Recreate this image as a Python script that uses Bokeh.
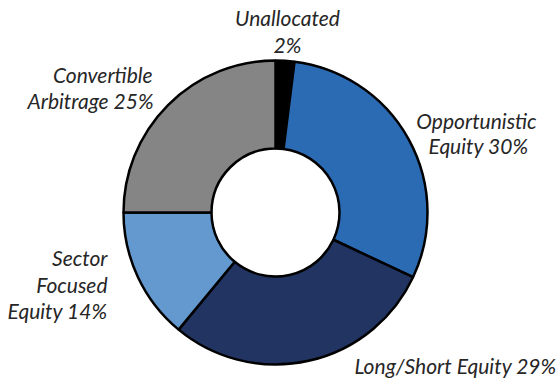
import numpy as np
from bokeh.plotting import figure
from bokeh.models import ColumnDataSource, Range1d, Label
from bokeh.embed import file_html
from bokeh.resources import INLINE

categories = ["Unallocated", "Opportunistic Equity", "Long/Short Equity",
              "Sector Focused Equity", "Convertible Arbitrage"]
shares = [2, 30, 29, 14, 25]
colors = ["#000000", "#2b6bb4", "#213462", "#6399cf", "#858585"]

W, H = 558, 381
cx, cy = 275, H - 212
r_out, r_in = 152, 64

vals = np.array(shares, dtype=float)
frac = vals / vals.sum()
cum = np.concatenate([[0], np.cumsum(frac)])
start = np.pi / 2 - 2 * np.pi * cum[:-1]
end = np.pi / 2 - 2 * np.pi * cum[1:]

src = ColumnDataSource(dict(cat=categories, val=shares, color=colors,
                            start=start, end=end))

p = figure(width=W, height=H, x_range=Range1d(0, W), y_range=Range1d(0, H),
           output_backend="svg", toolbar_location=None, min_border=0)
p.axis.visible = False
p.grid.visible = False
p.outline_line_color = None
p.background_fill_color = "white"

p.annular_wedge(x=cx, y=cy, inner_radius=r_in, outer_radius=r_out,
                start_angle="start", end_angle="end", direction="clock",
                fill_color="color", line_color="black", line_width=2.5,
                source=src)

font = "Lato"
fs = "21px"
tc = "#262626"
dy = 8

def lab(text, x, y_img, align):
    p.add_layout(Label(x=x, y=H - (y_img - dy), text=text, text_font=font,
                       text_font_size=fs, text_font_style="italic",
                       text_color=tc, text_align=align,
                       text_baseline="alphabetic"))

lab("Unallocated", 287, 25, "center")
lab(f"{shares[0]}%", 287, 52, "center")
lab("Opportunistic", 476, 128, "center")
lab(f"Equity {shares[1]}%", 478, 153, "center")
lab(f"Long/Short Equity {shares[2]}%", 455, 373, "center")
lab("Sector", 107, 265, "right")
lab("Focused", 107, 292, "right")
lab(f"Equity {shares[3]}%", 107, 318, "right")
lab("Convertible", 152, 82, "right")
lab(f"Arbitrage {shares[4]}%", 153, 108, "right")

open("out.html", "w").write(file_html(p, INLINE))
